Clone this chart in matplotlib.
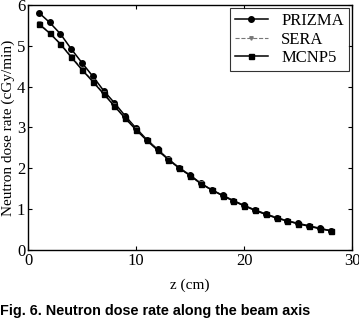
import matplotlib
matplotlib.use('Agg')
import matplotlib.pyplot as plt

plt.rcParams.update({
    'font.family': 'Liberation Serif',
    'font.size': 10,
    'axes.linewidth': 1.0,
    'xtick.direction': 'in',
    'ytick.direction': 'in',
    'xtick.top': True,
    'ytick.right': True,
})

# depth along the beam axis (cm)
z = list(range(1, 29))

prizma = [5.81, 5.57, 5.29, 4.92, 4.58, 4.25, 3.90, 3.60, 3.28, 2.98,
          2.70, 2.46, 2.22, 2.01, 1.83, 1.63, 1.47, 1.34, 1.21, 1.09,
          0.98, 0.88, 0.79, 0.71, 0.65, 0.59, 0.53, 0.47]
sera = [5.55, 5.32, 5.05, 4.74, 4.43, 4.14, 3.84, 3.54, 3.24, 2.95,
        2.69, 2.45, 2.22, 2.01, 1.82, 1.63, 1.47, 1.33, 1.20, 1.08,
        0.97, 0.87, 0.79, 0.71, 0.64, 0.58, 0.52, 0.47]
mcnp5 = [5.53, 5.31, 5.04, 4.72, 4.41, 4.12, 3.82, 3.52, 3.22, 2.94,
         2.68, 2.44, 2.21, 2.00, 1.82, 1.62, 1.47, 1.33, 1.20, 1.08,
         0.97, 0.87, 0.78, 0.71, 0.64, 0.58, 0.52, 0.47]

fig = plt.figure(figsize=(3.59, 3.25), dpi=100)
ax = fig.add_axes([0.078, 0.231, 0.903, 0.754])

ax.plot(z, prizma, color='black', marker='o', markersize=4, lw=1.1,
        label='PRIZMA')
ax.plot(z, sera, color='#777777', marker='v', markersize=2.5, lw=0.8,
        ls='--', label='SERA')
ax.plot(z, mcnp5, color='black', marker='s', markersize=3.6, lw=1.1,
        label='MCNP5')

ax.set_xlim(0, 30)
ax.set_ylim(0, 6)
ax.set_xticks([0, 10, 20, 30])
ax.set_yticks([0, 1, 2, 3, 4, 5, 6])
ax.tick_params(labelsize=12, length=3, pad=2)
ax.set_xlabel('z (cm)', fontsize=11, labelpad=7)
ax.set_ylabel('Neutron dose rate (cGy/min)', fontsize=11, labelpad=1)

leg = ax.legend(loc='upper right', fontsize=12, frameon=True, fancybox=False,
                edgecolor='black', handlelength=2.0, borderpad=0.3,
                labelspacing=0.15, borderaxespad=0.2)
leg.get_frame().set_linewidth(0.8)

fig.text(0.0, 0.03, 'Fig. 6. Neutron dose rate along the beam axis',
         family='Liberation Sans', weight='bold', fontsize=10.4)

fig.savefig('out.png', dpi=100)
